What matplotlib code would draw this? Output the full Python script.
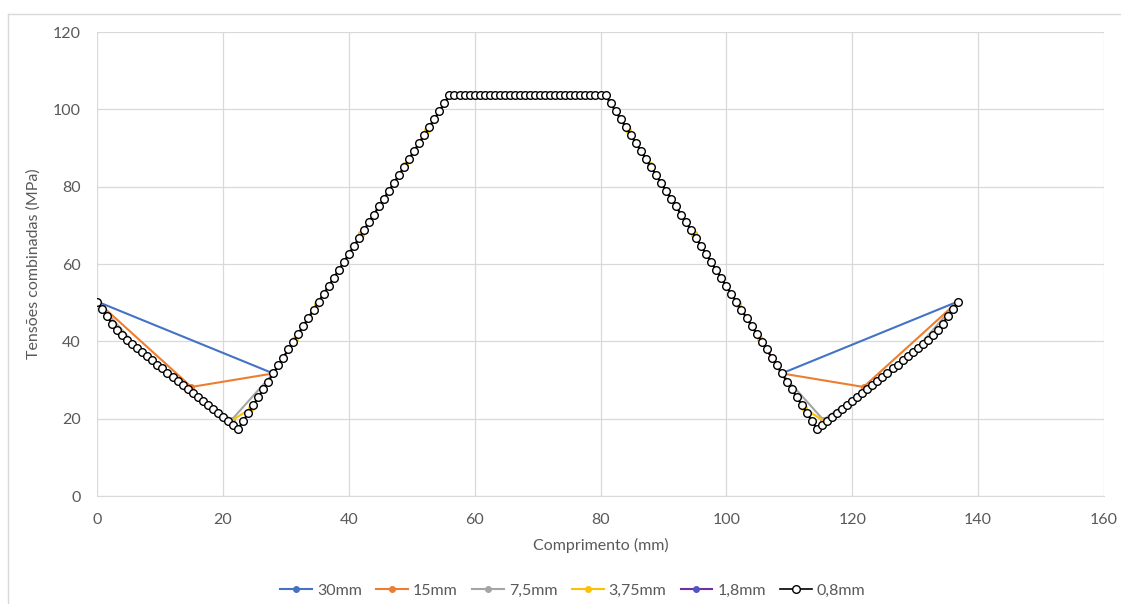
import matplotlib
matplotlib.use("Agg")
import matplotlib.pyplot as plt
from matplotlib.lines import Line2D

plt.rcParams['font.family'] = ['Lato', 'DejaVu Sans']

# 0,8mm series
x_08 = [0, 0.8, 1.6, 2.4, 3.2, 4, 4.8, 5.6, 6.4, 7.2, 8, 8.8, 9.6, 10.4, 11.2, 12, 12.8, 13.6,
        14.4, 15.2, 16, 16.8, 17.6, 18.4, 19.2, 20, 20.8, 21.6, 22.4, 23.2, 24, 24.8, 25.6, 26.4,
        27.2, 28, 28.8, 29.6, 30.4, 31.2, 32, 32.8, 33.6, 34.4, 35.2, 36, 36.8, 37.6, 38.4, 39.2,
        40, 40.8, 41.6, 42.4, 43.2, 44, 44.8, 45.6, 46.4, 47.2, 48, 48.8, 49.6, 50.4, 51.2, 52,
        52.8, 53.6, 54.4, 55.2, 56, 56.8, 57.6, 58.4, 59.2, 60, 60.8, 61.6, 62.4, 63.2, 64, 64.8,
        65.6, 66.4, 67.2, 68, 68.8, 69.6, 70.4, 71.2, 72, 72.8, 73.6, 74.4, 75.2, 76, 76.8, 77.6,
        78.4, 79.2, 80, 80.8, 81.6, 82.4, 83.2, 84, 84.8, 85.6, 86.4, 87.2, 88, 88.8, 89.6, 90.4,
        91.2, 92, 92.8, 93.6, 94.4, 95.2, 96, 96.8, 97.6, 98.4, 99.2, 100, 100.8, 101.6, 102.4,
        103.2, 104, 104.8, 105.6, 106.4, 107.2, 108, 108.8, 109.6, 110.4, 111.2, 112, 112.8,
        113.6, 114.4, 115.2, 116, 116.8, 117.6, 118.4, 119.2, 120, 120.8, 121.6, 122.4, 123.2,
        124, 124.8, 125.6, 126.4, 127.2, 128, 128.8, 129.6, 130.4, 131.2, 132, 132.8, 133.6,
        134.4, 135.2, 136, 136.8]
y_08 = [50.3, 48.4, 46.5, 44.6, 43.0, 41.6, 40.4, 39.3, 38.2, 37.2, 36.1, 35.1, 34.0, 33.0, 31.9,
        30.9, 29.8, 28.8, 27.7, 26.7, 25.6, 24.6, 23.5, 22.5, 21.5, 20.4, 19.4, 18.3, 17.3,
        19.4, 21.4, 23.5, 25.5, 27.6, 29.6, 31.7, 33.8, 35.8, 37.9, 39.9, 42.0, 44.0, 46.1, 48.1,
        50.2, 52.3, 54.3, 56.4, 58.4, 60.5, 62.5, 64.6, 66.6, 68.7, 70.8, 72.8, 74.9, 76.9, 79.0,
        81.0, 83.1, 85.1, 87.2, 89.3, 91.3, 93.4, 95.4, 97.5, 99.5, 101.6, 103.7,
        103.7, 103.7, 103.7, 103.7, 103.7, 103.7, 103.7, 103.7, 103.7, 103.7, 103.7, 103.7,
        103.7, 103.7, 103.7, 103.7, 103.7, 103.7, 103.7, 103.7, 103.7, 103.7, 103.7, 103.7,
        103.7, 103.7, 103.7, 103.7, 103.7, 103.7, 103.7,
        101.6, 99.5, 97.5, 95.4, 93.4, 91.3, 89.3, 87.2, 85.1, 83.1, 81.0, 79.0, 76.9, 74.9, 72.8,
        70.8, 68.7, 66.6, 64.6, 62.5, 60.5, 58.4, 56.4, 54.3, 52.3, 50.2, 48.1, 46.1, 44.0, 42.0,
        39.9, 37.9, 35.8, 33.8, 31.7, 29.6, 27.6, 25.5, 23.5, 21.4, 19.4, 17.3,
        18.3, 19.4, 20.4, 21.5, 22.5, 23.5, 24.6, 25.6, 26.7, 27.7, 28.8, 29.8, 30.9, 31.9, 33.0,
        34.0, 35.1, 36.1, 37.2, 38.2, 39.3, 40.4, 41.6, 43.0, 44.6, 46.5, 48.4, 50.3]

# 1,8mm series
x_18 = [0, 1.6, 3.2, 4.8, 6.4, 8, 9.6, 11.2, 12.8, 14.4, 16, 17.6, 19.2, 20.8, 22.4, 24, 25.6,
        27.2, 28.8, 30.4, 32, 33.6, 35.2, 36.8, 38.4, 40, 41.6, 43.2, 44.8, 46.4, 48, 49.6, 51.2,
        52.8, 54.4, 56, 68.4, 80.8, 82.4, 84, 85.6, 87.2, 88.8, 90.4, 92, 93.6, 95.2, 96.8, 98.4,
        100, 101.6, 103.2, 104.8, 106.4, 108, 109.6, 111.2, 112.8, 114.4, 116, 117.6, 119.2,
        120.8, 122.4, 124, 125.6, 127.2, 128.8, 130.4, 132, 133.6, 135.2, 136.8]
y_18 = [50.3, 46.5, 43.0, 40.4, 38.2, 36.1, 34.0, 31.9, 29.8, 27.7, 25.6, 23.5, 21.5, 19.4, 17.3,
        21.4, 25.5, 29.6, 33.8, 37.9, 42.0, 46.1, 50.2, 54.3, 58.4, 62.5, 66.6, 70.8, 74.9, 79.0,
        83.1, 87.2, 91.3, 95.4, 99.5, 103.7, 103.7, 103.7, 99.5, 95.4, 91.3, 87.2, 83.1, 79.0,
        74.9, 70.8, 66.6, 62.5, 58.4, 54.3, 50.2, 46.1, 42.0, 37.9, 33.8, 29.6, 25.5, 21.4, 17.3,
        19.4, 21.5, 23.5, 25.6, 27.7, 29.8, 31.9, 34.0, 36.1, 38.2, 40.4, 43.0, 46.5, 50.3]

# 3,75mm series
x_375 = [0, 3.5, 7, 10.5, 14, 17.5, 21, 24.5, 28, 31.5, 35, 38.5, 42, 45.5, 49, 52.5, 56, 68.4,
         80.8, 84.3, 87.8, 91.3, 94.8, 98.3, 101.8, 105.3, 108.8, 112.3, 115.8, 119.3, 122.8,
         126.3, 129.8, 133.3, 136.8]
y_375 = [50.3, 42.5, 37.4, 33.0, 28.3, 23.6, 19.1, 22.7, 31.7, 40.7, 49.7, 58.7, 67.7, 76.7, 85.7,
         94.7, 103.7, 103.7, 103.7, 94.7, 85.7, 76.7, 67.7, 58.7, 49.7, 40.7, 31.7, 22.7, 19.1,
         23.6, 28.3, 33.0, 37.4, 42.5, 50.3]

# 7,5mm series
x_75 = [0, 7, 14, 21.4, 28, 35, 42, 49, 56, 62.2, 68.4, 74.6, 80.8, 87.8, 94.8, 101.8, 108.8,
        115.4, 122.8, 129.8, 136.8]
y_75 = [50.3, 37.4, 28.3, 19.7, 31.7, 49.7, 67.7, 85.7, 103.7, 103.7, 103.7, 103.7, 103.7, 85.7,
        67.7, 49.7, 31.7, 19.7, 28.3, 37.4, 50.3]

# 15mm series
x_15 = [0, 15, 28, 42, 56, 68.4, 80.8, 94.8, 108.8, 121.8, 136.8]
y_15 = [50.3, 28.2, 31.7, 67.7, 103.7, 103.7, 103.7, 67.7, 31.7, 28.2, 50.3]

# 30mm series
x_30 = [0, 28, 56, 80.8, 108.8, 136.8]
y_30 = [50.3, 31.7, 103.7, 103.7, 31.7, 50.3]

txt = '#595959'
grid = '#D9D9D9'
fs = 11.5

fig = plt.figure(figsize=(11.21, 6.04), dpi=100)
ax = fig.add_axes([97/1121, 1 - 496/604, (1104 - 97)/1121, (496 - 32)/604])

ax.plot(x_30, y_30, color='#4472C4', lw=1.5, marker='o', ms=4, label='30mm')
ax.plot(x_15, y_15, color='#ED7D31', lw=1.5, marker='o', ms=4, label='15mm')
ax.plot(x_75, y_75, color='#A5A5A5', lw=1.5, marker='o', ms=4, label='7,5mm')
ax.plot(x_375, y_375, color='#FFC000', lw=1.5, marker='o', ms=4, label='3,75mm')
ax.plot(x_18, y_18, color='#7030A0', lw=1.5, marker='o', ms=4, mfc='#4F55C8', mec='#4F55C8',
        label='1,8mm')
ax.plot(x_08, y_08, color='black', lw=1.2, marker='o', ms=5.5, mfc='white', mec='black',
        mew=1.0, label='0,8mm')

ax.set_xlim(0, 160)
ax.set_ylim(0, 120)
ax.set_xticks(range(0, 161, 20))
ax.set_yticks(range(0, 121, 20))
ax.grid(True, color=grid, lw=0.9)
ax.set_axisbelow(True)
for s in ['top', 'right', 'left']:
    ax.spines[s].set_visible(False)
ax.spines['bottom'].set_color(grid)
ax.tick_params(length=0, colors=txt, labelsize=fs)
ax.tick_params(axis='x', pad=12)
ax.tick_params(axis='y', pad=11.5)

ax.set_xlabel('Comprimento (mm)', color=txt, fontsize=fs, labelpad=8)
ax.set_ylabel('Tensões combinadas (MPa)', color=txt, fontsize=fs, labelpad=9)

fig.legend(loc='center', bbox_to_anchor=(0.511, 0.022), ncol=6, frameon=False,
           fontsize=fs, labelcolor=txt, handlelength=2.0, handletextpad=0.3, columnspacing=0.9)

# outer chart border
fig.add_artist(Line2D([8/1121, 1], [1 - 14/604, 1 - 14/604], color=grid, lw=1))
fig.add_artist(Line2D([8/1121, 8/1121], [0, 1 - 14/604], color=grid, lw=1))

fig.savefig('out.png', dpi=100)
